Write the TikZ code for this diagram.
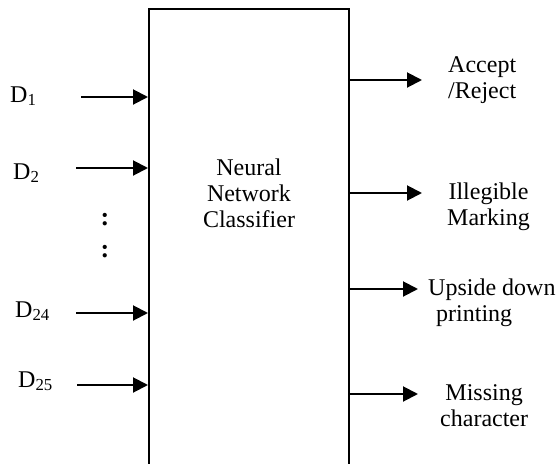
\documentclass[tikz,border=0pt]{standalone}
\usepackage{fontspec}
\setmainfont{Liberation Serif}
\usetikzlibrary{arrows.meta}

\tikzset{
  lbl/.style={font=\fontsize{24pt}{26pt}\selectfont, inner sep=0pt},
  arr/.style={line width=2pt, -{Triangle[length=15pt,width=15pt]}},
  blockbox/.style={draw, line width=2pt, minimum width=200pt, minimum height=480pt, inner sep=0pt}
}

\begin{document}
\begin{tikzpicture}[x=1pt, y=-1pt]
\path[use as bounding box, clip] (0,0) rectangle (558,464);

% classifier block (bottom edge falls outside the picture)
\node[blockbox] (clf) at (249,249) {};
\node[lbl, align=center] (clftxt) at (249,193) {Neural\\Network\\Classifier};

% inputs
\node[lbl, anchor=base west] (d1) at (10,102) {D\textsubscript{1}};
\node[lbl, anchor=base west] (d2) at (13,179) {D\textsubscript{2}};
\node[lbl, anchor=base west] (d24) at (15,317) {D\textsubscript{24}};
\node[lbl, anchor=base west] (d25) at (18,387) {D\textsubscript{25}};
\node[lbl, font=\fontsize{26pt}{26pt}\selectfont\bfseries] (dots1) at (105,220) {:};
\node[lbl, font=\fontsize{26pt}{26pt}\selectfont\bfseries] (dots2) at (105,252) {:};

\coordinate (s1) at (81,97);
\coordinate (s2) at (76,168);
\coordinate (s24) at (76,313);
\coordinate (s25) at (77,385);
\draw[arr] (s1) -- (s1 -| clf.west);
\draw[arr] (s2) -- (s2 -| clf.west);
\draw[arr] (s24) -- (s24 -| clf.west);
\draw[arr] (s25) -- (s25 -| clf.west);

% outputs
\node[lbl, align=center, anchor=base west] (accept) at (448,98) {Accept\\/Reject};
\node[lbl, align=center, anchor=base west] (illeg) at (447,225) {Illegible\\Marking};
\node[lbl, align=left, anchor=base west] (upside) at (428,321) {Upside down\\\hspace*{8pt}printing};
\node[lbl, align=center, anchor=base west] (missing) at (440,426) {Missing\\character};

\coordinate (e1) at (422,80);
\coordinate (e2) at (422,193);
\coordinate (e3) at (418,289);
\coordinate (e4) at (418,394);
\draw[arr] (e1 -| clf.east) -- (e1);
\draw[arr] (e2 -| clf.east) -- (e2);
\draw[arr] (e3 -| clf.east) -- (e3);
\draw[arr] (e4 -| clf.east) -- (e4);
\end{tikzpicture}
\end{document}
